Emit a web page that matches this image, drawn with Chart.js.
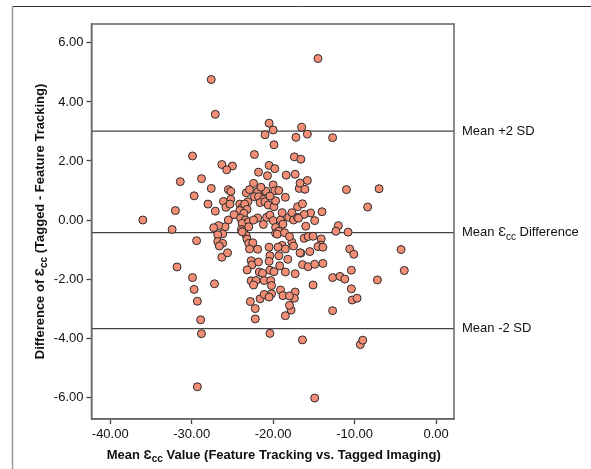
<!DOCTYPE html>
<html>
<head>
<meta charset="utf-8">
<script src="https://cdn.jsdelivr.net/npm/chart.js@4/dist/chart.umd.min.js"></script>
<style>
html,body{margin:0;padding:0;background:#fff;}
#wrap{width:591px;height:469px;position:relative;}
</style>
</head>
<body>
<div id="wrap"><canvas id="c" width="591" height="469"></canvas></div>
<script>
// Mean Ecc value (x) and difference (y) for each subject
const meanValues = [
-36.0,-27.6,-27.1,-20.5,-21.0,-20.0,-19.9,-29.9,-22.3,-26.3,-25.0,-25.7,-20.5,-19.8,-21.8,-20.7,-18.4,-17.3,-17.2,-17.4,
-31.4,-28.8,-22.4,-20.0,-19.8,-27.6,-29.7,-25.5,-25.2,-23.3,-22.9,-21.4,-20.9,-21.9,-19.3,-18.5,-22.3,-21.8,-21.2,-21.6,
-21.0,-20.6,-19.9,-19.7,-28.0,-26.1,-25.2,-25.8,-25.3,-24.1,-23.8,-23.1,-23.5,-24.1,-23.2,-23.6,-24.8,-27.1,-32.0,-25.5,
-25.9,-26.7,-27.3,-26.2,-32.4,-24.0,-23.4,-23.8,-23.0,-23.9,-23.6,-23.3,-21.9,-21.2,-20.8,-20.4,-20.0,-19.7,-19.1,-18.8,
-19.7,-19.3,-18.1,-17.7,-17.5,-17.0,-18.9,-17.0,-16.8,-14.5,-16.5,-15.8,-12.7,-16.6,-16.7,-15.8,-16.1,-11.0,-7.0,-8.4,
-16.4,-14.0,-15.4,-16.2,-16.9,-14.9,-16.0,-12.0,-12.3,-10.8,-16.2,-15.7,-15.1,-14.1,-14.2,-14.5,-13.9,-10.6,-10.1,-4.3,
-3.9,-16.6,-15.5,-16.4,-15.7,-14.9,-13.9,-17.3,-15.1,-12.7,-11.8,-11.2,-10.4,-7.2,-10.4,-10.3,-9.7,-12.7,-17.3,-17.4,
-17.8,-16.4,-9.3,-9.0,-14.9,-29.4,-26.8,-26.8,-26.2,-26.6,-26.3,-25.6,-31.8,-29.9,-29.7,-27.2,-29.3,-28.9,-28.8,-29.3,
-23.2,-23.0,-22.5,-22.9,-21.9,-22.7,-22.6,-21.8,-23.2,-21.7,-21.3,-22.7,-22.1,-22.4,-21.1,-22.8,-22.2,-22.2,-21.6,-21.1,
-20.4,-20.5,-20.4,-20.5,-20.4,-19.9,-20.3,-20.2,-20.2,-20.5,-19.5,-18.9,-18.5,-19.3,-18.2,-19.2,-18.5,-19.1,-18.8,-18.0,
-18.0,-18.5,-17.7,-17.5,-16.7,-18.6,-18.0,-19.4,-20.4,-22.4,-23.8,-21.5,-23.0
];
const differences = [
0.00,4.76,3.58,3.28,2.89,3.05,2.55,2.17,2.22,1.88,1.83,1.70,1.85,1.74,1.62,1.50,1.52,1.55,2.80,2.14,
1.30,1.40,1.24,1.19,0.99,1.07,0.82,1.03,0.97,0.92,1.03,0.96,0.98,0.96,1.00,0.77,0.79,0.79,0.70,0.59,
0.62,0.51,0.45,0.65,0.54,0.63,0.70,0.43,0.54,0.54,0.41,0.62,0.54,0.32,0.36,0.23,0.18,0.30,0.32,0.00,
-0.23,-0.19,-0.26,-0.47,-0.32,0.06,0.00,-0.11,-0.06,-0.32,-0.36,-0.53,0.07,-0.15,0.09,0.17,-0.02,-0.25,0.00,-0.14,
-0.45,-0.38,0.09,0.25,0.00,0.09,0.25,0.45,1.07,5.47,3.14,2.91,2.79,2.06,1.25,1.34,1.04,1.03,1.06,0.44,
0.55,0.28,0.24,0.19,0.06,-0.02,-0.21,-0.19,-0.38,-0.41,-0.62,-0.56,-0.55,-0.64,-0.85,-0.90,-0.92,-0.98,-1.16,-1.00,
-1.71,-1.12,-1.07,-1.51,-1.58,-1.50,-1.47,-1.82,-2.20,-1.95,-1.91,-2.00,-1.70,-2.03,-2.33,-2.71,-2.65,-3.07,-2.44,-2.65,
-3.05,-4.06,-4.22,-4.07,-6.03,-0.70,-0.50,-0.73,-0.79,-0.88,-1.26,-1.11,-1.59,-1.95,-2.35,-2.16,-2.75,-3.38,-3.85,-5.65,
-0.65,-0.79,-0.77,-0.98,-0.99,-1.38,-1.52,-1.42,-1.69,-1.76,-1.80,-2.06,-2.05,-2.20,-2.05,-2.76,-3.00,-3.35,-2.67,-2.52,
-3.84,-0.92,-1.21,-1.40,-1.70,-1.75,-2.05,-2.22,-2.50,-2.61,-0.48,-0.86,-0.98,-1.21,-1.33,-1.55,-1.76,-2.37,-2.56,-2.57,
-2.89,-3.24,-0.75,-0.88,-1.11,-0.43,-0.56,-0.92,0.81,0.00,-0.40,1.11,-0.23
];
const xTickValues = [-40, -30, -20, -10, 0];
const yTickValues = [-6, -4, -2, 0, 2, 4, 6];
const limitValues = [3.01, -0.43, -3.68];   // mean +2 SD, mean difference, mean -2 SD
const limitLabels = [
  [{t:'Mean +2 SD'}],
  [{t:'Mean '},{t:'\u0190'},{t:'cc',sub:true},{t:' Difference'}],
  [{t:'Mean -2 SD'}]
];
const xTitle = [{t:'Mean '},{t:'\u0190'},{t:'cc',sub:true},{t:' Value (Feature Tracking vs. Tagged Imaging)'}];
const yTitle = [{t:'Difference of '},{t:'\u0190'},{t:'cc',sub:true},{t:' (Tagged - Feature Tracking)'}];

const points = meanValues.map((x, i) => ({x: x, y: differences[i]}));
const FONT = '"Liberation Sans", Arial, Helvetica, sans-serif';

function richWidth(ctx, parts, size, weight) {
  let w = 0;
  parts.forEach(p => {
    ctx.font = weight + ' ' + (p.sub ? Math.round(size*0.78) : size) + 'px ' + FONT;
    w += ctx.measureText(p.t).width;
  });
  return w;
}
function drawRich(ctx, parts, x, y, size, weight, align) {
  const w = richWidth(ctx, parts, size, weight);
  let cx = align === 'center' ? x - w/2 : x;
  ctx.textBaseline = 'middle';
  ctx.textAlign = 'left';
  parts.forEach(p => {
    const s = p.sub ? Math.round(size*0.78) : size;
    ctx.font = weight + ' ' + s + 'px ' + FONT;
    ctx.fillText(p.t, cx, p.sub ? y + size*0.35 : y);
    cx += ctx.measureText(p.t).width;
  });
}

const decor = {
  id: 'decor',
  beforeDatasetsDraw(chart) {
    const ctx = chart.ctx, a = chart.chartArea, ys = chart.scales.y;
    ctx.save();
    // outer frame
    ctx.strokeStyle = '#333'; ctx.lineWidth = 1;
    ctx.beginPath(); ctx.moveTo(12, 6.5); ctx.lineTo(591, 6.5); ctx.stroke();
    ctx.strokeStyle = '#999'; ctx.lineWidth = 1.5;
    ctx.beginPath(); ctx.moveTo(12.5, 6); ctx.lineTo(12.5, 469); ctx.stroke();
    // limit lines
    ctx.strokeStyle = '#444'; ctx.lineWidth = 1.3;
    limitValues.forEach(v => {
      const py = ys.getPixelForValue(v);
      ctx.beginPath(); ctx.moveTo(a.left, py); ctx.lineTo(a.right, py); ctx.stroke();
    });
    ctx.restore();
  },
  afterDraw(chart) {
    const ctx = chart.ctx, a = chart.chartArea, ys = chart.scales.y;
    ctx.save();
    // plot frame
    ctx.strokeStyle = '#666'; ctx.lineWidth = 1.5;
    ctx.strokeRect(a.left, a.top, a.right - a.left, a.bottom - a.top);
    ctx.fillStyle = '#111';
    limitValues.forEach((v, i) => {
      drawRich(ctx, limitLabels[i], a.right + 8, ys.getPixelForValue(v), 13, 'normal', 'left');
    });
    drawRich(ctx, xTitle, (a.left + a.right)/2 + 1, 455, 13, 'bold', 'center');
    ctx.translate(40, (a.top + a.bottom)/2);
    ctx.rotate(-Math.PI/2);
    drawRich(ctx, yTitle, 0, 0, 13, 'bold', 'center');
    ctx.restore();
  }
};

new Chart(document.getElementById('c'), {
  type: 'scatter',
  data: {
    datasets: [{
      data: points,
      backgroundColor: '#f28d76',
      borderColor: '#2a2a2a',
      borderWidth: 1,
      pointRadius: 4,
      pointHoverRadius: 4
    }]
  },
  options: {
    responsive: false,
    animation: false,
    devicePixelRatio: 1,
    layout: { padding: { left: 0, top: 24, right: 137, bottom: 0 } },
    plugins: { legend: { display: false }, tooltip: { enabled: false } },
    scales: {
      x: {
        type: 'linear', min: -42.3, max: 2.2,
        afterBuildTicks: s => { s.ticks = xTickValues.map(v => ({value: v})); },
        afterFit: s => { s.height = 50; },
        grid: { display: true, drawOnChartArea: false, drawTicks: true, tickLength: 5, tickColor: '#444', tickWidth: 1.3 },
        border: { display: true, color: '#666', width: 1.5 },
        ticks: { color: '#111', padding: 3, maxRotation: 0, font: { family: FONT, size: 13 },
                 callback: v => Number(v).toFixed(2) }
      },
      y: {
        type: 'linear', min: -6.74, max: 6.64,
        afterBuildTicks: s => { s.ticks = yTickValues.map(v => ({value: v})); },
        afterFit: s => { s.width = 91.5; },
        grid: { display: true, drawOnChartArea: false, drawTicks: true, tickLength: 5, tickColor: '#444', tickWidth: 1.3 },
        border: { display: true, color: '#666', width: 1.5 },
        ticks: { color: '#111', padding: 3, font: { family: FONT, size: 13 },
                 callback: v => Number(v).toFixed(2) }
      }
    }
  },
  plugins: [decor]
});
</script>
</body>
</html>
